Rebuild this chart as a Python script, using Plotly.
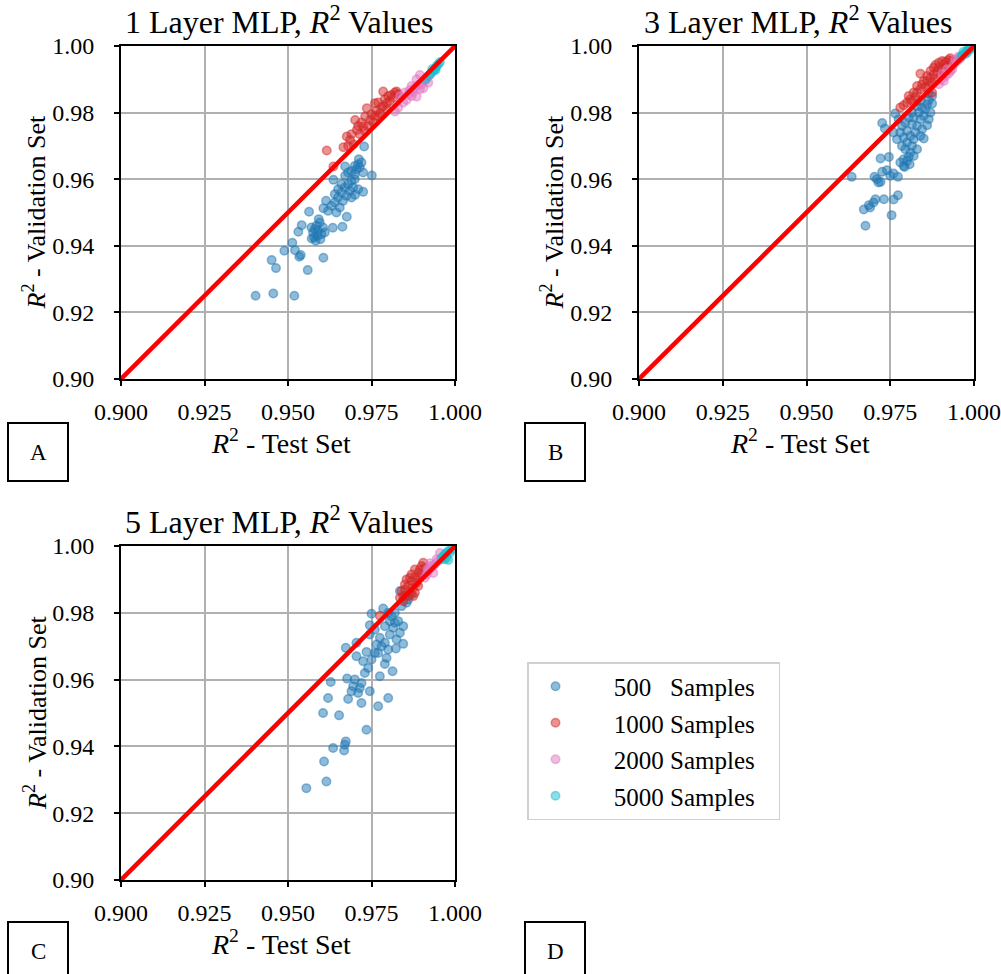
import plotly.graph_objects as go

# ---------------- data ----------------
series_names = ["500\u00a0\u00a0\u00a0Samples", "1000 Samples", "2000 Samples", "5000 Samples"]
series_colors = ["31,119,180", "214,39,40", "227,119,194", "23,190,207"]

# Panel A (1 layer)
a_500_x = [0.9403,0.9456,0.9519,0.9451,0.9464,0.9559,0.9606,0.9489,0.9513,0.9521,0.9534,0.9538,
           0.9531,0.9541,0.9563,0.9571,0.9575,0.9580,0.9585,0.9590,0.9595,0.9578,0.9588,0.9600,
           0.9592,0.9570,0.9605,0.9583,0.9597,0.9610,0.9634,0.9663,0.9676,0.9606,0.9614,
           0.9620,0.9630,0.9640,0.9645,0.9650,0.9655,0.9660,0.9665,0.9670,0.9675,0.9680,0.9685,
           0.9690,0.9695,0.9700,0.9650,0.9660,0.9640,0.9636,0.9671,0.9680,
           0.9671,0.9690,0.9700,0.9705,0.9710,0.9715,0.9720,0.9725,0.9712,0.9700,0.9728,0.9751,
           0.9725,0.9701,0.9690,0.9710]
a_500_y = [0.9250,0.9257,0.9250,0.9357,0.9333,0.9327,0.9364,0.9385,0.9409,0.9387,0.9367,0.9372,
           0.9442,0.9462,0.9502,0.9422,0.9440,0.9450,0.9460,0.9445,0.9470,0.9425,0.9430,0.9435,
           0.9480,0.9455,0.9455,0.9415,0.9420,0.9440,0.9454,0.9457,0.9487,0.9513,0.9535,
           0.9505,0.9520,0.9530,0.9500,0.9545,0.9515,0.9560,0.9535,0.9575,0.9550,0.9585,0.9565,
           0.9595,0.9575,0.9600,0.9570,0.9585,0.9555,0.9598,0.9610,0.9620,
           0.9638,0.9625,0.9640,0.9630,0.9645,0.9635,0.9650,0.9620,0.9660,0.9615,0.9698,0.9611,
           0.9562,0.9553,0.9545,0.9570]
a_1000_x = [0.9616,0.9636,0.9666,0.9676,0.9686,0.9701,0.9706,0.9696,0.9715,0.9725,0.9731,0.9736,
            0.9746,0.9740,0.9750,0.9755,0.9760,0.9765,0.9770,0.9775,0.9780,0.9785,0.9790,0.9796,
            0.9800,0.9805,0.9810,0.9815,0.9820,0.9825,0.9830,0.9720,0.9730,0.9760,0.9785,0.9770,
            0.9795,0.9710,0.9690,0.9680]
a_1000_y = [0.9686,0.9638,0.9696,0.9728,0.9718,0.9778,0.9748,0.9705,0.9735,0.9758,0.9788,0.9813,
            0.9778,0.9760,0.9795,0.9770,0.9828,0.9805,0.9790,0.9798,0.9815,0.9863,0.9840,0.9828,
            0.9850,0.9835,0.9853,0.9845,0.9860,0.9863,0.9855,0.9770,0.9745,0.9790,0.9820,0.9830,
            0.9810,0.9760,0.9735,0.9700]
a_2000_x = [0.9820,0.9835,0.9845,0.9855,0.9860,0.9865,0.9870,0.9875,0.9880,0.9885,0.9890,0.9895,
            0.9900,0.9905,0.9910,0.9915,0.9920,0.9925,0.9895,0.9885,0.9870,0.9850,0.9830]
a_2000_y = [0.9803,0.9848,0.9830,0.9838,0.9855,0.9868,0.9850,0.9862,0.9875,0.9848,0.9883,0.9870,
            0.9885,0.9873,0.9895,0.9903,0.9890,0.9913,0.9913,0.9900,0.9880,0.9860,0.9815]
a_5000_x = [0.9912,0.9920,0.9928,0.9935,0.9940,0.9945,0.9950,0.9955,0.9932,0.9942]
a_5000_y = [0.9900,0.9910,0.9918,0.9925,0.9932,0.9940,0.9945,0.9952,0.9930,0.9928]

# Panel B (3 layers)
b_500_x = [0.9676,0.9754,0.9671,0.9686,0.9700,0.9706,0.9731,0.9760,0.9773,0.9690,
           0.9635,0.9703,0.9710,0.9721,0.9726,0.9740,0.9760,0.9773,0.9715,0.9750,
           0.9721,0.9746,0.9793,0.9726,0.9734,0.9765,
           0.9780,0.9790,0.9800,0.9805,0.9810,0.9795,0.9785,0.9800,0.9815,0.9820,0.9810,0.9790,
           0.9780,0.9800,0.9825,0.9830,0.9815,0.9795,0.9785,0.9805,0.9820,0.9840,0.9835,0.9815,
           0.9850,0.9860,0.9845,0.9840,0.9770,0.9775,0.9760,0.9830,0.9820,0.9808,0.9790,0.9850,
           0.9855,0.9865,0.9875,0.9860,0.9845,0.9870,0.9865,0.9830,0.9840,0.9865,0.9875]
b_500_y = [0.9460,0.9492,0.9509,0.9522,0.9530,0.9540,0.9540,0.9539,0.9552,0.9515,
           0.9607,0.9607,0.9600,0.9592,0.9622,0.9627,0.9617,0.9607,0.9590,0.9610,
           0.9662,0.9667,0.9637,0.9769,0.9752,0.9797,
           0.9650,0.9660,0.9655,0.9667,0.9680,0.9690,0.9700,0.9710,0.9700,0.9720,0.9730,0.9725,
           0.9740,0.9745,0.9740,0.9760,0.9765,0.9770,0.9760,0.9785,0.9785,0.9780,0.9800,0.9800,
           0.9722,0.9762,0.9750,0.9730,0.9720,0.9780,0.9740,0.9690,0.9670,0.9645,0.9640,0.9790,
           0.9810,0.9837,0.9827,0.9825,0.9815,0.9800,0.9780,0.9820,0.9835,0.9857,0.9850]
b_1000_x = [0.9790,0.9800,0.9810,0.9825,0.9830,0.9840,0.9840,0.9845,0.9855,0.9860,0.9865,0.9870,
            0.9875,0.9880,0.9885,0.9885,0.9890,0.9895,0.9900,0.9904,0.9910,0.9915,0.9920,0.9924,
            0.9929,0.9935,0.9895,0.9870,0.9860,0.9850,0.9820,0.9815,0.9780,0.9805,0.9830,0.9880,
            0.9905,0.9875]
b_1000_y = [0.9822,0.9830,0.9840,0.9847,0.9860,0.9870,0.9917,0.9885,0.9877,0.9895,0.9880,0.9905,
            0.9890,0.9915,0.9943,0.9900,0.9925,0.9935,0.9910,0.9927,0.9945,0.9953,0.9940,0.9958,
            0.9963,0.9955,0.9950,0.9925,0.9910,0.9895,0.9860,0.9835,0.9815,0.9850,0.9880,0.9935,
            0.9955,0.9860]
b_2000_x = [0.9895,0.9904,0.9910,0.9915,0.9924,0.9930,0.9935,0.9940,0.9944,0.9950,0.9954,0.9958,
            0.9962,0.9920,0.9905]
b_2000_y = [0.9885,0.9900,0.9895,0.9910,0.9917,0.9925,0.9930,0.9945,0.9960,0.9955,0.9968,0.9962,
            0.9970,0.9930,0.9915]
b_5000_x = [0.9965,0.9969,0.9972,0.9976,0.9980,0.9984,0.9978,0.9986,0.9990,0.9962]
b_5000_y = [0.9972,0.9983,0.9975,0.9982,0.9985,0.9993,0.9978,0.9988,0.9992,0.9968]

# Panel C (5 layers)
c_500_x = [0.9555,0.9615,0.9608,0.9635,0.9668,0.9673,0.9670,0.9735,
           0.9605,0.9653,0.9620,0.9680,0.9720,0.9770,0.9800,
           0.9695,0.9715,0.9745,0.9628,0.9677,0.9730,0.9775,0.9813,
           0.9740,0.9790,0.9725,0.9705,0.9673,0.9735,0.9795,0.9800,0.9823,0.9845,
           0.9705,0.9765,0.9775,0.9745,0.9805,0.9835,0.9830,0.9805,0.9785,0.9750,0.9745,0.9815,
           0.9840,0.9860,0.9835,
           0.9700,0.9710,0.9690,0.9720,0.9760,0.9780,0.9790,0.9820,0.9825,0.9810,0.9800,0.9760,
           0.9770,0.9750,0.9790,0.9820,0.9845,0.9850,0.9870,0.9855]
c_500_y = [0.9275,0.9295,0.9355,0.9395,0.9388,0.9415,0.9405,0.9450,
           0.9500,0.9493,0.9545,0.9542,0.9530,0.9520,0.9545,
           0.9580,0.9575,0.9565,0.9593,0.9603,0.9620,0.9610,0.9625,
           0.9635,0.9647,0.9655,0.9670,0.9695,0.9683,0.9665,0.9690,0.9693,0.9707,
           0.9710,0.9705,0.9725,0.9735,0.9735,0.9740,0.9775,0.9775,0.9813,0.9797,0.9763,0.9755,
           0.9820,0.9840,0.9865,
           0.9600,0.9560,0.9565,0.9590,0.9680,0.9700,0.9760,0.9770,0.9720,0.9790,0.9800,0.9750,
           0.9680,0.9660,0.9710,0.9800,0.9760,0.9850,0.9855,0.9830]
c_1000_x = [0.9775,0.9845,0.9850,0.9855,0.9860,0.9865,0.9870,0.9870,0.9875,0.9880,0.9880,0.9885,
            0.9890,0.9890,0.9895,0.9900,0.9905,0.9900,0.9910,0.9860,0.9875,0.9840,0.9850,0.9865,
            0.9895,0.9880,0.9845,0.9835]
c_1000_y = [0.9791,0.9850,0.9870,0.9900,0.9880,0.9860,0.9895,0.9915,0.9875,0.9905,0.9930,0.9890,
            0.9920,0.9880,0.9930,0.9940,0.9950,0.9915,0.9935,0.9850,0.9850,0.9865,0.9885,0.9905,
            0.9905,0.9860,0.9835,0.9845]
c_2000_x = [0.9910,0.9915,0.9920,0.9925,0.9930,0.9935,0.9940,0.9945,0.9950,0.9955,0.9960,0.9928,0.9918]
c_2000_y = [0.9905,0.9915,0.9925,0.9948,0.9935,0.9919,0.9945,0.9960,0.9955,0.9979,0.9965,0.9940,0.9930]
c_5000_x = [0.9960,0.9965,0.9970,0.9975,0.9980,0.9980,0.9985,0.9990,0.9975,0.9968]
c_5000_y = [0.9962,0.9970,0.9975,0.9979,0.9985,0.9958,0.9980,0.9990,0.9965,0.9960]

diag = [0.9, 1.0]
x_ticks = [0.900, 0.925, 0.950, 0.975, 1.000]
y_ticks = [0.90, 0.92, 0.94, 0.96, 0.98, 1.00]
panel_titles = ["1 Layer MLP, <i>R</i><sup>2</sup> Values",
                "3 Layer MLP, <i>R</i><sup>2</sup> Values",
                "5 Layer MLP, <i>R</i><sup>2</sup> Values"]
letters = ["A", "B", "C", "D"]

panels = [
    [(a_500_x, a_500_y), (a_1000_x, a_1000_y), (a_2000_x, a_2000_y), (a_5000_x, a_5000_y)],
    [(b_500_x, b_500_y), (b_1000_x, b_1000_y), (b_2000_x, b_2000_y), (b_5000_x, b_5000_y)],
    [(c_500_x, c_500_y), (c_1000_x, c_1000_y), (c_2000_x, c_2000_y), (c_5000_x, c_5000_y)],
]

# ---------------- layout geometry (pixels) ----------------
W, H = 1001, 974
FONT = "Liberation Serif"
NB = "\u00a0"
# plot areas: (left, right, top, bottom)
boxes = [(121, 455, 46, 379), (639, 974, 46, 379), (121, 455, 546, 880)]

def px(x):
    return x / W

def py(y):
    return 1 - y / H

fig = go.Figure()
for p, series in enumerate(panels):
    ax = "" if p == 0 else str(p + 1)
    for s, (xs, ys) in enumerate(series):
        c = series_colors[s]
        fig.add_trace(go.Scatter(
            x=xs, y=ys, mode="markers", name=NB * 5 + series_names[s] + NB * 3,
            xaxis="x" + ax, yaxis="y" + ax,
            legendgroup="g%d" % s, showlegend=(p == 0),
            marker=dict(size=8.5, color="rgba(%s,0.5)" % c,
                        line=dict(width=1.5, color="rgba(%s,0.5)" % c)),
        ))
    fig.add_trace(go.Scatter(x=diag, y=diag, mode="lines", showlegend=False,
                             xaxis="x" + ax, yaxis="y" + ax,
                             line=dict(color="#ff0000", width=4.5)))

axis_common = dict(showline=True, linecolor="black", linewidth=2, mirror=True,
                   showgrid=True, gridcolor="#b0b0b0", gridwidth=1.5,
                   ticks="outside", ticklen=5, tickwidth=1.5, tickcolor="black",
                   zeroline=False, automargin=False,
                   tickfont=dict(family=FONT, size=24, color="black"))

layout = dict(template="none", width=W, height=H,
              margin=dict(l=0, r=0, t=0, b=0, pad=0, autoexpand=False),
              paper_bgcolor="white", plot_bgcolor="white",
              font=dict(family=FONT, color="black"),
              showlegend=True,
              legend=dict(x=px(527), y=py(662), xanchor="left", yanchor="top",
                          bgcolor="white", bordercolor="#d0d0d0", borderwidth=1.5,
                          font=dict(family=FONT, size=25, color="black"),
                          tracegroupgap=1, itemwidth=44, traceorder="grouped"))

annotations = []
shapes = []
for p, (l, r, t, b) in enumerate(boxes):
    ax = "" if p == 0 else str(p + 1)
    layout["xaxis" + ax] = dict(axis_common, domain=[px(l), px(r)], range=[0.9, 1.0],
                                tickvals=x_ticks, tickformat=".3f",
                                anchor="y" + ax, ticklabelstandoff=5)
    layout["yaxis" + ax] = dict(axis_common, domain=[py(b), py(t)], range=[0.9, 1.0],
                                tickvals=y_ticks, tickformat=".2f",
                                anchor="x" + ax, ticklabelstandoff=15)
    cx = (l + r) / 2
    cy = (t + b) / 2
    annotations.append(dict(text=panel_titles[p], x=px(cx - 9), y=py(t - 26), xref="paper", yref="paper",
                            showarrow=False, xanchor="center", yanchor="middle",
                            font=dict(family=FONT, size=32)))
    annotations.append(dict(text="<i>R</i><sup>2</sup> - Test Set", x=px(cx - 7), y=py(b + 62),
                            xref="paper", yref="paper", showarrow=False,
                            xanchor="center", yanchor="middle", font=dict(family=FONT, size=28)))
    annotations.append(dict(text="<i>R</i><sup>2</sup> - Validation Set", x=px(l - 86), y=py(cy),
                            xref="paper", yref="paper", showarrow=False, textangle=-90,
                            xanchor="center", yanchor="middle", font=dict(family=FONT, size=26)))

letter_boxes = [(8, 423), (525, 423), (8, 922), (525, 922)]
for k, (lx, ly) in enumerate(letter_boxes):
    shapes.append(dict(type="rect", xref="paper", yref="paper",
                       x0=px(lx), x1=px(lx + 60), y0=py(ly + 58), y1=py(ly),
                       line=dict(color="black", width=2), fillcolor="white"))
    annotations.append(dict(text=letters[k], x=px(lx + 30), y=py(ly + 29), xref="paper", yref="paper",
                            showarrow=False, xanchor="center", yanchor="middle",
                            font=dict(family=FONT, size=23)))

layout["annotations"] = annotations
layout["shapes"] = shapes
fig.update_layout(**layout)
fig.write_html("out.html", config={"displayModeBar": False},
               post_script="document.body.style.margin='0px';document.body.style.overflow='hidden';")
